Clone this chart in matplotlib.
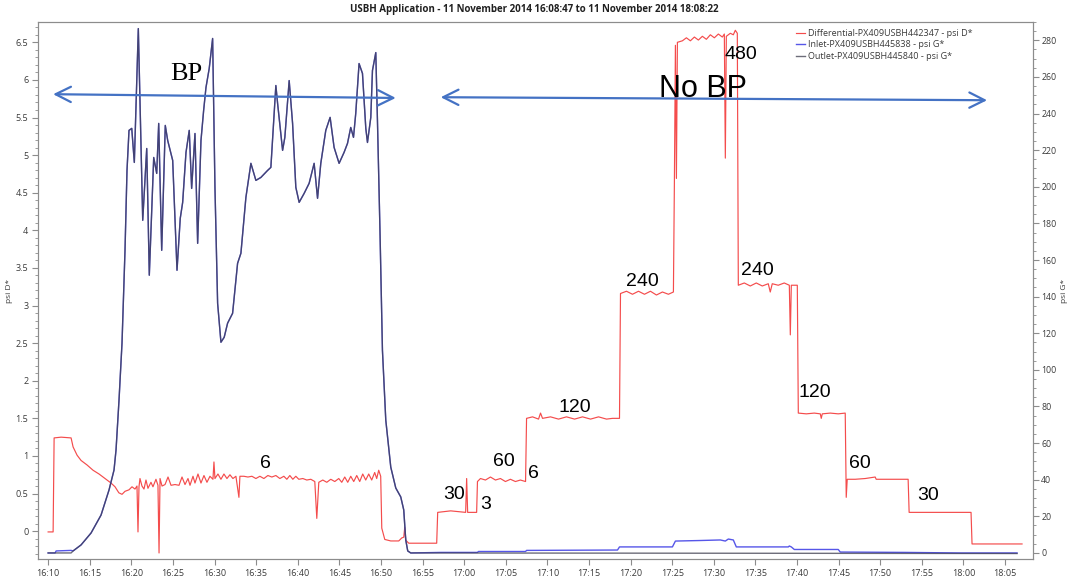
import matplotlib
matplotlib.use('Agg')
import matplotlib.pyplot as plt
import matplotlib.dates as mdates
from matplotlib.ticker import AutoMinorLocator, MultipleLocator
from matplotlib import rcParams
import pandas as pd

rcParams['font.family'] = ['Open Sans', 'DejaVu Sans']
rcParams['axes.edgecolor'] = '#8c8c8c'
rcParams['xtick.color'] = '#8c8c8c'
rcParams['ytick.color'] = '#8c8c8c'
rcParams['xtick.labelcolor'] = '#3a3a3a'
rcParams['ytick.labelcolor'] = '#3a3a3a'

# Logged data, times are minutes after 16:00 on 11 Nov 2014
diff_min = [10.0, 10.6, 10.72, 11.56, 12.76, 13.0, 13.48, 13.96, 14.68, 15.4, 16.12, 16.84,
            17.56, 18.04, 18.5, 18.88, 19.24, 19.72, 20.08, 20.44, 20.68, 20.8, 20.92, 21.04,
            21.28, 21.52, 21.76, 22.0, 22.36, 22.6, 22.96, 23.2, 23.33, 23.45, 23.69, 24.05,
            24.41, 24.77, 25.25, 25.73, 26.09, 26.45, 26.81, 27.05, 27.41, 27.65, 28.01, 28.37,
            28.73, 29.09, 29.45, 29.81, 29.93, 30.05, 30.41, 30.77, 31.13, 31.49, 31.85, 32.21,
            32.57, 32.93, 33.05, 33.53, 34.01, 34.49, 34.97, 35.45, 35.93, 36.41, 36.89, 37.37,
            37.85, 38.33, 38.69, 39.05, 39.41, 39.77, 40.13, 40.61, 41.09, 41.57, 42.05, 42.29,
            42.53, 43.01, 43.49, 43.97, 44.45, 44.93, 45.29, 45.65, 46.01, 46.37, 46.73, 47.09,
            47.45, 47.81, 48.17, 48.53, 48.89, 49.25, 49.49, 49.73, 49.97, 50.1, 50.46, 51.18,
            52.14, 52.5, 52.74, 52.86, 52.98, 53.34, 56.7, 56.82, 58.38, 60.18, 60.3, 60.42,
            61.5, 61.6, 61.96, 62.56, 63.16, 63.76, 64.36, 64.96, 65.56, 66.16, 66.76, 67.38,
            67.5, 68.22, 68.94, 69.18, 69.42, 70.38, 71.34, 72.3, 73.27, 74.23, 75.19, 76.15,
            77.11, 77.83, 78.67, 78.79, 79.51, 80.23, 80.95, 81.67, 82.39, 83.11, 83.83, 84.55,
            85.15, 85.27, 85.39, 85.51, 85.63, 86.23, 86.71, 87.19, 87.67, 88.15, 88.63, 89.11,
            89.59, 90.07, 90.55, 91.03, 91.27, 91.39, 91.51, 91.99, 92.35, 92.59, 92.83, 92.95,
            93.67, 94.39, 95.11, 95.83, 96.55, 96.79, 97.03, 97.75, 98.47, 99.08, 99.2, 99.32,
            100.04, 100.16, 101.12, 102.08, 102.8, 102.92, 103.04, 104.0, 104.96, 105.8, 105.92,
            106.04, 107.0, 108.2, 109.4, 109.52, 111.2, 113.36, 113.48, 117.2, 120.92, 121.04,
            127.05]
diff_psi = [-0.01, -0.01, 1.24, 1.25, 1.24, 1.12, 1.01, 0.94, 0.88, 0.81, 0.76, 0.70,
            0.64, 0.59, 0.51, 0.49, 0.53, 0.55, 0.59, 0.56, 0.60, -0.01, 0.59, 0.70,
            0.60, 0.56, 0.68, 0.57, 0.65, 0.59, 0.69, 0.61, -0.29, 0.70, 0.60, 0.62,
            0.72, 0.61, 0.62, 0.61, 0.72, 0.62, 0.70, 0.61, 0.73, 0.64, 0.76, 0.64,
            0.74, 0.65, 0.73, 0.69, 0.92, 0.70, 0.76, 0.69, 0.76, 0.70, 0.75, 0.70,
            0.73, 0.45, 0.73, 0.73, 0.72, 0.73, 0.70, 0.73, 0.70, 0.74, 0.72, 0.74,
            0.70, 0.73, 0.69, 0.74, 0.69, 0.73, 0.69, 0.70, 0.68, 0.69, 0.66, 0.17,
            0.65, 0.68, 0.65, 0.69, 0.66, 0.70, 0.65, 0.72, 0.65, 0.73, 0.66, 0.74,
            0.66, 0.76, 0.68, 0.76, 0.68, 0.78, 0.70, 0.81, 0.73, 0.04, -0.11, -0.13,
            -0.13, -0.09, -0.08, 0.05, -0.12, -0.16, -0.16, 0.25, 0.27, 0.25, 0.70, 0.25,
            0.25, 0.66, 0.70, 0.68, 0.72, 0.68, 0.70, 0.66, 0.69, 0.66, 0.68, 0.66,
            1.50, 1.52, 1.49, 1.57, 1.50, 1.52, 1.49, 1.52, 1.49, 1.52, 1.49, 1.52,
            1.49, 1.50, 1.50, 3.16, 3.19, 3.15, 3.19, 3.15, 3.19, 3.14, 3.18, 3.15,
            3.18, 4.67, 6.46, 4.69, 6.50, 6.52, 6.56, 6.52, 6.57, 6.53, 6.58, 6.54,
            6.60, 6.56, 6.61, 6.57, 6.61, 4.96, 6.58, 6.62, 6.60, 6.66, 6.62, 3.27,
            3.30, 3.26, 3.30, 3.26, 3.29, 3.18, 3.29, 3.27, 3.30, 3.27, 2.61, 3.27,
            3.27, 1.57, 1.56, 1.57, 1.56, 1.50, 1.56, 1.57, 1.56, 1.57, 0.45,
            0.69, 0.69, 0.70, 0.72, 0.69, 0.69, 0.69, 0.25, 0.25, 0.25, -0.17,
            -0.17]

# inlet and outlet read the same while the back-pressure valve is in
bp_min = [13.0, 13.96, 15.16, 16.36, 17.32, 17.92, 18.16, 18.52, 18.88, 19.24, 19.48, 19.72,
          20.05, 20.36, 20.84, 21.37, 21.85, 22.16, 22.69, 23.05, 23.29, 23.65, 24.08, 24.37,
          24.97, 25.49, 25.88, 26.17, 26.57, 26.96, 27.25, 27.65, 27.97, 28.37, 28.69, 28.97,
          29.36, 29.77, 30.05, 30.37, 30.77, 31.16, 31.57, 32.17, 32.77, 33.17, 33.77, 34.37,
          34.97, 35.57, 36.37, 36.77, 37.37, 37.58, 38.18, 38.45, 38.97, 39.38, 39.77, 40.17,
          40.77, 41.37, 41.97, 42.38, 42.77, 43.37, 43.89, 44.37, 44.97, 45.57, 45.98, 46.37,
          46.7, 46.97, 47.37, 47.78, 48.18, 48.38, 48.78, 48.98, 49.38, 49.58, 49.89, 50.18,
          50.58, 51.18, 51.78, 52.38, 52.74, 52.98, 53.22, 53.58]
bp_psi = [1.1, 4.4, 10.9, 20.7, 34.4, 45.3, 56.2, 83.5, 114.6, 165.3, 209.0, 230.8,
          231.9, 213.3, 286.4, 181.7, 220.9, 151.7, 216.0, 207.3, 234.6, 165.3, 233.5, 225.3,
          214.4, 154.4, 182.8, 191.5, 218.8, 230.8, 199.1, 229.1, 169.1, 225.3, 241.7, 254.2,
          264.6, 281.0, 199.7, 136.4, 115.1, 117.8, 125.5, 130.9, 158.2, 163.7, 194.2, 212.8,
          203.5, 205.1, 208.9, 210.6, 255.3, 245.5, 219.9, 227.0, 258.0, 234.6, 199.7, 191.5,
          196.4, 201.9, 212.8, 193.7, 212.8, 230.8, 237.9, 221.5, 212.8, 218.8, 223.7, 232.4,
          227.0, 240.0, 267.3, 261.9, 231.9, 224.2, 237.9, 263.5, 273.3, 236.2, 174.6, 110.7,
          72.6, 46.9, 35.5, 30.6, 23.5, 7.1, 1.1, 0.0]

inlet_head_min = [10.0, 10.84, 10.96, 12.76]
inlet_head_psi = [0.0, 0.0, 1.1, 1.4]
inlet_tail_min = [57.18, 61.6, 61.72, 67.38, 67.5, 78.43, 78.67, 85.03, 85.39, 88.39, 90.79,
                  91.39, 91.75, 92.35, 92.71, 98.96, 99.08, 99.32, 99.68, 104.96, 105.2,
                  113.0, 119.6, 126.45]
inlet_tail_psi = [0.3, 0.3, 0.8, 0.8, 1.4, 1.6, 3.3, 3.3, 6.5, 6.8, 7.1,
                  6.5, 7.6, 7.1, 3.3, 3.3, 3.8, 3.3, 1.9, 1.9, 0.5,
                  0.3, 0.0, 0.0]

outlet_head_min = [10.0, 12.76]
outlet_head_psi = [0.0, 0.0]
outlet_tail_min = [126.45]
outlet_tail_psi = [-0.3]

# flow rate notes written on the chart (label, minute, psi D*)
notes = [('6', 36.17, 0.90), ('30', 58.74, 0.49), ('3', 62.58, 0.36), ('60', 64.74, 0.93),
         ('6', 68.34, 0.77), ('120', 73.27, 1.65), ('240', 81.43, 3.32), ('480', 93.31, 6.34),
         ('240', 95.23, 3.46), ('120', 102.2, 1.84), ('60', 107.6, 0.90), ('30', 115.76, 0.47)]

start = pd.Timestamp('2014-11-11 16:00:00')


def to_time(minutes):
    return start + pd.to_timedelta(minutes, unit='m')


def to_num(minutes):
    return mdates.date2num(to_time(minutes))


inlet_min = inlet_head_min + bp_min + inlet_tail_min
inlet_psi = inlet_head_psi + bp_psi + inlet_tail_psi
outlet_min = outlet_head_min + bp_min + outlet_tail_min
outlet_psi = outlet_head_psi + bp_psi + outlet_tail_psi

fig = plt.figure(figsize=(10.68, 5.79), dpi=100)
ax = fig.add_axes([38 / 1068, 20 / 579, 995 / 1068, 537 / 579])
ax2 = ax.twinx()

l1, = ax.plot(to_time(diff_min), diff_psi, color='#f44c4c', lw=0.85,
              label='Differential-PX409USBH442347 - psi D*')
l2, = ax2.plot(to_time(inlet_min), inlet_psi, color='#5656e8', lw=1.0,
               label='Inlet-PX409USBH445838 - psi G*')
l3, = ax2.plot(to_time(outlet_min), outlet_psi, color='#3c3c4c', lw=1.0, alpha=0.75,
               label='Outlet-PX409USBH445840 - psi G*')

ax.set_xlim(to_time(8.783), to_time(128.367))
ax.set_ylim(-0.37, 6.77)
ax2.set_ylim(-3.3, 290)

ax.xaxis.set_major_locator(mdates.MinuteLocator(byminute=range(0, 60, 5)))
ax.xaxis.set_major_formatter(mdates.DateFormatter('%H:%M'))
ax.yaxis.set_major_locator(MultipleLocator(0.5))
ax.yaxis.set_minor_locator(AutoMinorLocator(5))
ax2.yaxis.set_major_locator(MultipleLocator(20))
ax2.yaxis.set_minor_locator(AutoMinorLocator(4))
ax.yaxis.set_major_formatter(plt.FuncFormatter(lambda v, p: ('%g' % v)))
for a in (ax, ax2):
    a.tick_params(labelsize=6.5, length=4, width=0.8, pad=3)
    a.tick_params(which='minor', length=2, width=0.6)
ax2.tick_params(labelsize=6.3, pad=2)
ax.set_ylabel('psi D*', fontsize=6, color='#3a3a3a', labelpad=2)
ax2.set_ylabel('psi G*', fontsize=6, color='#3a3a3a')
ax2.yaxis.set_label_coords(1.0285, 0.5)

fig.suptitle('USBH Application - 11 November 2014 16:08:47 to 11 November 2014 18:08:22',
             fontsize=7, fontweight='bold', color='#202020', y=0.993)

ax2.legend(handles=[l1, l2, l3], loc='upper left', bbox_to_anchor=(0.757, 0.995),
           frameon=False, fontsize=6.5, handlelength=1.0, handletextpad=0.4,
           labelspacing=0.25, borderpad=0, labelcolor='#3a3a3a')

# flow rate labels
for s, m, v in notes:
    ax2.text(to_num(m), v, s, transform=ax.transData, fontsize=14,
             family=['Liberation Sans'], ha='center', va='center', color='black')

# back-pressure regions
arrow = dict(arrowstyle='<->,head_length=1.1,head_width=0.55', color='#4472c4', lw=1.6,
             shrinkA=0, shrinkB=0)
ax2.annotate('', xy=(to_num(10.6), 5.81), xytext=(to_num(51.78), 5.76),
             xycoords=ax.transData, textcoords=ax.transData, arrowprops=arrow)
ax2.annotate('', xy=(to_num(57.18), 5.77), xytext=(to_num(122.85), 5.73),
             xycoords=ax.transData, textcoords=ax.transData, arrowprops=arrow)
ax2.text(to_num(26.57), 6.08, 'BP', transform=ax.transData, fontsize=19,
         family=['Liberation Serif'], ha='center', va='center', color='black')
ax2.text(to_num(88.75), 5.88, 'No BP', transform=ax.transData, fontsize=22,
         family=['Liberation Sans'], ha='center', va='center', color='black')

plt.savefig('out.png', dpi=100)
